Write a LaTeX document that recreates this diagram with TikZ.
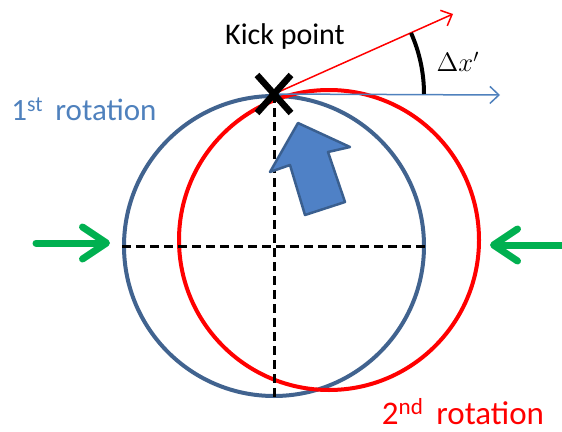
\documentclass[tikz,border=0pt]{standalone}
\usepackage{fontspec}
\setmainfont{Carlito}
\usetikzlibrary{arrows.meta,positioning,calc}
\definecolor{ringblue}{HTML}{41638F}
\definecolor{lineblue}{HTML}{4F81BD}
\definecolor{pushgreen}{HTML}{00B050}
\definecolor{bigfill}{HTML}{4F81C6}
\definecolor{bigedge}{HTML}{3A5F8F}

\begin{document}
\begin{tikzpicture}[x=1pt,y=-1pt]
    \useasboundingbox (0,0) rectangle (562,431);

    \node[circle,draw=ringblue,line width=4pt,minimum size=300pt,inner sep=0pt] (first) at (274,246) {};
    \node[circle,draw=red,line width=4pt,minimum size=300pt,inner sep=0pt] (second) at (329,240) {};
    \coordinate (kick) at (first.north);

    \draw[line width=3pt,dash pattern=on 9pt off 5pt] (first.west) -- (first.east);
    \draw[line width=3pt,dash pattern=on 9pt off 5pt] (kick) -- (first.south);

    \draw[bigedge,fill=bigfill,line width=2.5pt,line join=round]
        (298,123) -- (350,147) -- (328,152) -- (345,202) -- (305,215) -- (290,165) -- (270,172) -- cycle;

    \coordinate (flat) at (500,95);
    \coordinate (tilt) at (453,14);
    \draw[red,line width=1.5pt,-{Straight Barb[length=9pt,width=17pt]}] (kick) -- (tilt);
    \draw[lineblue,line width=1.5pt,-{Straight Barb[length=9pt,width=17pt]}] (kick) -- (flat);

    \draw[line width=6.5pt] ($(kick)+(-17,-19)$) -- ($(kick)+(17,19)$);
    \draw[line width=6.5pt] ($(kick)+(17,-19)$) -- ($(kick)+(-17,19)$);

    \draw[line width=4pt] ($(kick)+(0:150)$) arc[start angle=0,end angle=-24,radius=150];
    \node[scale=1.85,inner sep=0pt] (dxp) at (458,62) {\Large$\Delta x'$};

    \node[inner sep=0pt] (kicklbl) at (285,37) {\fontsize{30}{34}\selectfont Kick point};
    \node[lineblue,inner sep=0pt] (firstlbl) at (84,109) {\fontsize{31}{36}\selectfont 1\textsuperscript{st}\, rotation};
    \node[red,inner sep=0pt,anchor=base] (secondlbl) at (463,424) {\fontsize{33}{38}\selectfont 2\textsuperscript{nd}\, rotation};

    \coordinate (pushL0) at (36,243);
    \coordinate (pushL1) at (110,243);
    \coordinate (pushR0) at (570,245);
    \coordinate (pushR1) at (490,245);
    \draw[pushgreen,line width=7pt,line cap=round,-{Straight Barb[length=24pt,width=32pt,line cap=round,line join=round]}] (pushL0) -- (pushL1);
    \draw[pushgreen,line width=7pt,line cap=round,-{Straight Barb[length=24pt,width=32pt,line cap=round,line join=round]}] (pushR0) -- (pushR1);
\end{tikzpicture}
\end{document}
